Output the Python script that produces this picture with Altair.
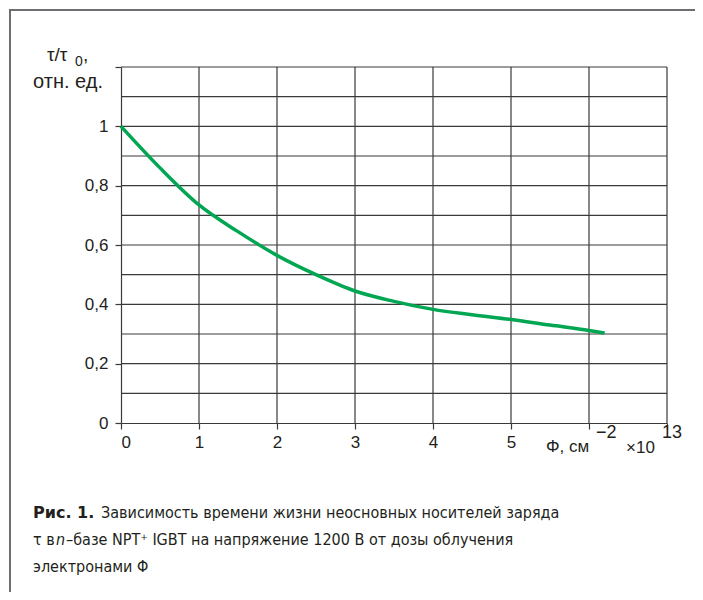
import altair as alt
import pandas as pd

# Data
phi = [0, 0.5, 1, 1.5, 2, 2.5, 3, 3.5, 4, 4.5, 5, 5.5, 6, 6.2]
tau = [1.0, 0.86, 0.735, 0.645, 0.565, 0.50, 0.445, 0.41, 0.383, 0.365, 0.349, 0.33, 0.312, 0.303]

x_grid = [1, 2, 3, 4, 5, 6, 7]
y_grid = [0.1, 0.2, 0.3, 0.4, 0.5, 0.6, 0.7, 0.8, 0.9, 1.0, 1.1, 1.2]
x_ticks = [0, 1, 2, 3, 4, 5, 6, 7]
y_ticks = [0, 0.2, 0.4, 0.6, 0.8, 1.0, 1.2]

W, H = 546, 356
FONT = "Liberation Sans, Arial, sans-serif"
CFONT = "DejaVu Sans Condensed, Liberation Sans Narrow, Roboto, sans-serif"
BFONT = "DejaVu Sans, sans-serif"
GRID = "#3a3a3a"
TXT = "#231f20"

xs = alt.Scale(domain=[0, 7], nice=False, zero=False)
ys = alt.Scale(domain=[0, 1.2], nice=False, zero=False)

x_axis = alt.Axis(
    values=x_ticks, title=None, grid=False, tickSize=6, labelPadding=5,
    labelExpr="datum.value <= 5 ? format(datum.value, 'd') : ''",
    domainColor=GRID, tickColor=GRID, domainWidth=1.2, tickWidth=1.2)
y_axis = alt.Axis(
    values=y_ticks, title=None, grid=False, tickSize=6, labelPadding=7,
    labelExpr="datum.value > 1.05 ? '' : replace(format(datum.value, '.1~f'), '.', ',')",
    domainColor=GRID, tickColor=GRID, domainWidth=1.2, tickWidth=1.2)

curve = pd.DataFrame({"phi": phi, "tau": tau})

vgrid = alt.Chart(pd.DataFrame({"phi": x_grid})).mark_rule(color=GRID, strokeWidth=1.2).encode(
    x=alt.X("phi:Q", scale=xs, axis=x_axis))
hgrid = alt.Chart(pd.DataFrame({"tau": y_grid})).mark_rule(color=GRID, strokeWidth=1.2).encode(
    y=alt.Y("tau:Q", scale=ys, axis=y_axis))

line = alt.Chart(curve).mark_line(color="#00a651", strokeWidth=3.5, interpolate="monotone").encode(
    x=alt.X("phi:Q", scale=xs, axis=x_axis),
    y=alt.Y("tau:Q", scale=ys, axis=y_axis),
)

def txt(s, x, y, size=17, align="left", font=FONT, weight="normal", style="normal"):
    return alt.Chart(pd.DataFrame({"t": [s]})).mark_text(
        align=align, baseline="alphabetic", fontSize=size, font=font, fontWeight=weight,
        fontStyle=style, color=TXT).encode(text="t:N", x=alt.value(x), y=alt.value(y))

texts = [
    txt("τ/τ", -74, -6, size=19),
    txt("0", -46, -1, size=14),
    txt(",", -38, -6, size=19),
    txt("отн. ед.", -18, 21, size=20, align="right"),
    txt("Φ, см", 425, 385),
    txt("−2", 475, 371, size=18),
    txt("×10", 505, 386),
    txt("13", 541, 371, size=18),
    txt("Рис. 1.", -88, 451, size=16, font=BFONT, weight="bold"),
    txt("Зависимость времени жизни неосновных носителей заряда", -20, 451, size=16, font=CFONT),
    txt("τ в", -88, 478, size=16, font=CFONT),
    txt("n", -65, 478, size=16, font=CFONT, style="italic"),
    txt("–базе NPT⁺ IGBT на напряжение 1200 В от дозы облучения", -55, 478, size=16, font=CFONT),
    txt("электронами Φ", -88, 505, size=16, font=CFONT),
]

def rule(x, x2, y, y2):
    return alt.Chart(pd.DataFrame({"a": [0]})).mark_rule(color="#6d6e71", strokeWidth=2).encode(
        x=alt.value(x), x2=alt.value(x2), y=alt.value(y), y2=alt.value(y2))

# plot origin sits at svg (113, 59); frame hugs the svg's top-left corner
frame_left = rule(-111, -111, -58, 528)
frame_top = rule(-112, 574, -57, -57)

chart = alt.layer(frame_left, frame_top, vgrid, hgrid, line, *texts).properties(
    width=W, height=H,
    autosize=alt.AutoSizeParams(type="none"),
    padding={"left": 113, "top": 59, "right": 28, "bottom": 169},
).configure_view(stroke=None).configure_axis(
    labelFont=FONT, labelFontSize=17, labelColor=TXT)

chart.save("out.html", embed_options={"renderer": "svg", "actions": False})
